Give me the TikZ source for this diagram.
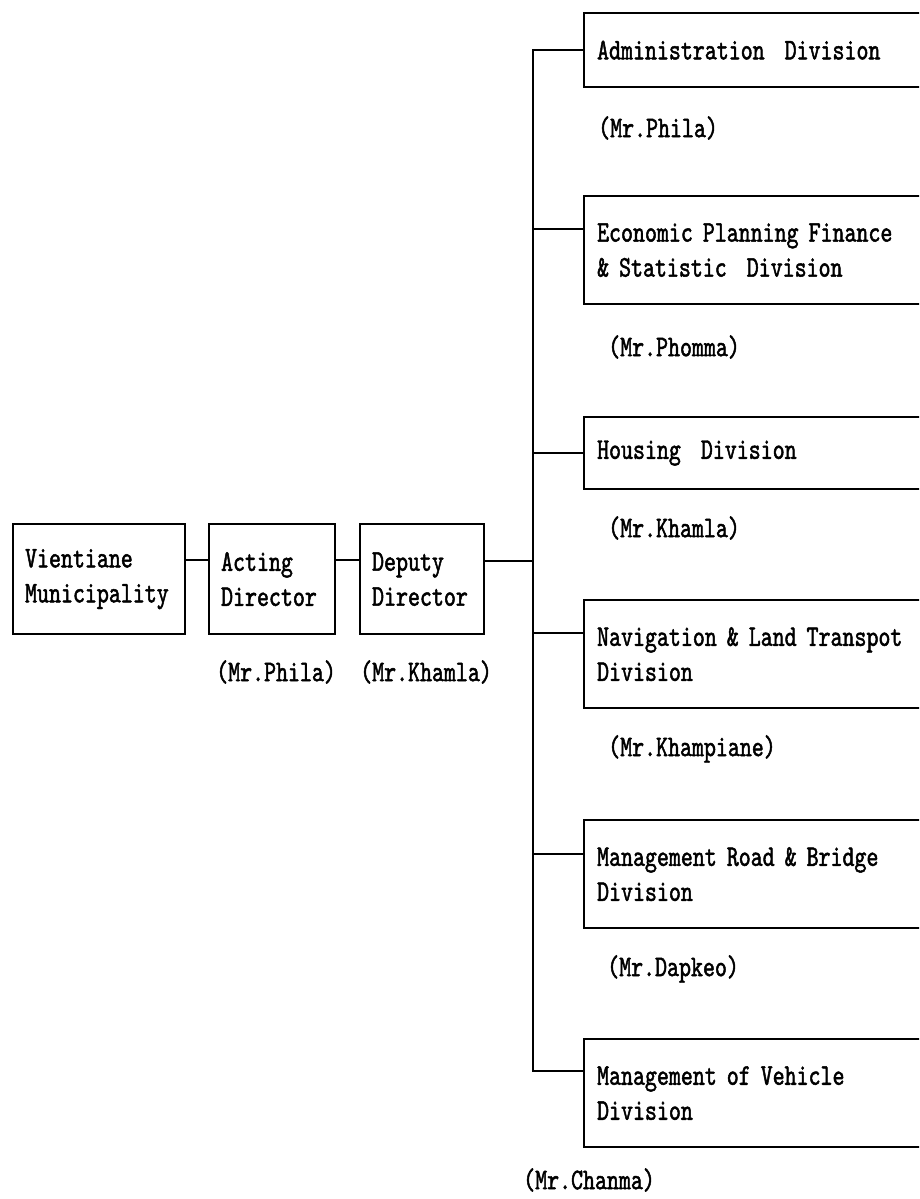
\documentclass[tikz,border=0pt]{standalone}
\usepackage{fontspec}
\setmainfont{lmmono10-regular.otf}[FakeStretch=0.76,FakeBold=1.6]
\begin{document}
\begin{tikzpicture}[x=1pt,y=-1pt,
  txt/.style={font=\fontsize{30}{35}\selectfont},
  box/.style={txt, draw, line width=2.2pt, anchor=north west, inner xsep=12pt, inner ysep=0pt, align=left},
  rbox/.style={box, minimum width=360pt, text width=334pt, inner xsep=13pt},
  who/.style={txt, anchor=west, inner sep=0pt},
  link/.style={line width=2.2pt}]
\useasboundingbox (0,0) rectangle (919,1199);
\clip (0,0) rectangle (919,1199);
% left chain
\node[box, minimum width=172pt, minimum height=110pt, text width=148pt] (vm) at (12,523) {Vientiane\\Municipality};
\node[box, minimum width=126pt, minimum height=110pt, text width=102pt, inner xsep=12pt] (act) at (208,523) {Acting\\Director};
\node[box, minimum width=124pt, minimum height=110pt, text width=100pt] (dep) at (359,523) {Deputy\\Director};
\node[who] (n-act) at (216,672) {(Mr.Phila)};
\node[who] (n-dep) at (360,672) {(Mr.Khamla)};
% right divisions
\node[rbox, minimum height=74pt] (adm) at (583,12) {Administration~~Division};
\node[rbox, minimum height=108pt] (eco) at (583,195) {Economic Planning Finance\\\&~Statistic~~Division};
\node[rbox, minimum height=72pt] (hou) at (583,416) {Housing~~Division};
\node[rbox, minimum height=108pt] (nav) at (583,599) {Navigation \& Land Transpot\\Division};
\node[rbox, minimum height=108pt] (road) at (583,819) {Management Road \& Bridge\\Division};
\node[rbox, minimum height=108pt] (veh) at (583,1038) {Management of Vehicle\\Division};
\node[who] (n-adm) at (598,128) {(Mr.Phila)};
\node[who] (n-eco) at (608,347) {(Mr.Phomma)};
\node[who] (n-hou) at (608,528) {(Mr.Khamla)};
\node[who] (n-nav) at (608,749) {(Mr.Khampiane)};
\node[who] (n-road) at (607,969) {(Mr.Dapkeo)};
\node[who] (n-veh) at (523,1180) {(Mr.Chanma)};
% connectors
\coordinate (ttop) at (533,49);
\coordinate (tbot) at (533,1071);
\coordinate (tmid) at (533,561);
\coordinate (vmR) at ([yshift=-37pt]vm.north east);
\coordinate (actL) at ([yshift=-37pt]act.north west);
\coordinate (actR) at ([yshift=-37pt]act.north east);
\coordinate (depL) at ([yshift=-37pt]dep.north west);
\coordinate (depR) at ([yshift=-38pt]dep.north east);
\coordinate (ecoIn) at ([yshift=-34pt]eco.north west);
\coordinate (navIn) at ([yshift=-34pt]nav.north west);
\coordinate (roadIn) at ([yshift=-35pt]road.north west);
\coordinate (vehIn) at ([yshift=-33pt]veh.north west);
\draw[link] (vmR) -- (actL);
\draw[link] (actR) -- (depL);
\draw[link] (depR) -- (tmid);
\draw[link] (adm.west) -- (adm.west -| ttop) -- (tbot) -- (vehIn);
\draw[link] (ecoIn) -- (ecoIn -| ttop);
\draw[link] (hou.west) -- (hou.west -| ttop);
\draw[link] (navIn) -- (navIn -| ttop);
\draw[link] (roadIn) -- (roadIn -| ttop);
\end{tikzpicture}
\end{document}
